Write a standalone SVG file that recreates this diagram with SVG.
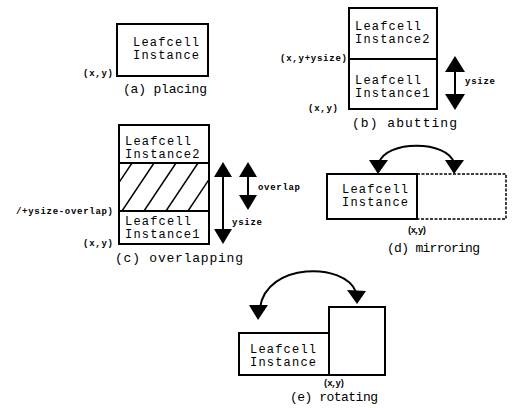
<svg xmlns="http://www.w3.org/2000/svg" width="513" height="408" viewBox="0 0 513 408">
<style>
.box{fill:none;stroke:#000;stroke-width:2}
.dbox{fill:none;stroke:#000;stroke-width:1.5;stroke-dasharray:3,1.5}
.t{font-family:'Liberation Mono','DejaVu Sans Mono','Courier New',monospace;font-size:12px;letter-spacing:1.2px;fill:#000}
.cap{font-family:'Liberation Mono','DejaVu Sans Mono','Courier New',monospace;font-size:13px;fill:#000}
.s{font-family:'Liberation Mono','DejaVu Sans Mono','Courier New',monospace;font-size:9px;font-weight:bold;fill:#000}
.ln{stroke:#000;stroke-width:2;fill:none}
.hd{fill:#000}
.hatch{stroke:#000;stroke-width:1.5}
</style>
<defs>
<clipPath id="hc"><rect x="119" y="163" width="90" height="48"/></clipPath>
</defs>
<rect width="513" height="408" fill="#fff"/>

<g id="a-placing">
<rect class="box" x="117" y="24" width="91" height="52"/>
<text class="t" x="133" y="46">Leafcell</text>
<text class="t" x="133" y="59">Instance</text>
<text class="s" x="113" y="76" text-anchor="end" textLength="30">(x,y)</text>
<text class="cap" x="123" y="93" textLength="84">(a) placing</text>
</g>

<g id="b-abutting">
<rect class="box" x="349" y="8" width="88" height="101"/>
<line class="ln" x1="349" y1="59" x2="437" y2="59"/>
<text class="t" x="355" y="30">Leafcell</text>
<text class="t" x="355" y="43">Instance2</text>
<text class="t" x="355" y="84">Leafcell</text>
<text class="t" x="355" y="97">Instance1</text>
<text class="s" x="280" y="61" textLength="67">(x,y+ysize)</text>
<text class="s" x="308" y="111" textLength="30">(x,y)</text>
<text class="s" x="465" y="84" textLength="30">ysize</text>
<text class="cap" x="352" y="127" textLength="105">(b) abutting</text>
</g>

<g id="c-overlapping">
<rect class="box" x="119" y="125" width="90" height="119"/>
<line class="ln" x1="119" y1="163" x2="209" y2="163"/>
<line class="ln" x1="119" y1="211" x2="209" y2="211"/>
<g clip-path="url(#hc)">
<line class="hatch" x1="100" y1="211" x2="132" y2="163"/>
<line class="hatch" x1="122" y1="211" x2="154" y2="163"/>
<line class="hatch" x1="144" y1="211" x2="176" y2="163"/>
<line class="hatch" x1="166" y1="211" x2="198" y2="163"/>
<line class="hatch" x1="188" y1="211" x2="220" y2="163"/>
<line class="hatch" x1="210" y1="211" x2="242" y2="163"/>
</g>
<text class="t" x="125" y="145">Leafcell</text>
<text class="t" x="125" y="158">Instance2</text>
<text class="t" x="125" y="225">Leafcell</text>
<text class="t" x="125" y="238">Instance1</text>
<text class="s" x="16" y="214" textLength="97">/+ysize-overlap)</text>
<text class="s" x="83" y="246" textLength="30">(x,y)</text>
<text class="s" x="232" y="225" textLength="30">ysize</text>
<text class="s" x="258" y="190" textLength="42">overlap</text>
<text class="cap" x="115" y="262" textLength="128">(c) overlapping</text>
</g>

<g id="d-mirroring">
<rect class="dbox" x="417" y="174" width="89" height="45"/>
<rect class="box" x="327" y="174" width="90" height="45"/>
<text class="t" x="342" y="193">Leafcell</text>
<text class="t" x="342" y="206">Instance</text>
<text class="s" x="407" y="233" textLength="20">(x,y)</text>
<text class="cap" x="387" y="252" textLength="93">(d) mirroring</text>
</g>

<g id="e-rotating">
<rect class="box" x="239" y="333" width="90" height="42"/>
<rect class="box" x="329" y="307" width="56" height="68"/>
<text class="t" x="250" y="353">Leafcell</text>
<text class="t" x="250" y="366">Instance</text>
<text class="s" x="323" y="386" textLength="22">(x,y)</text>
<text class="cap" x="290" y="401" textLength="88">(e) rotating</text>
</g>

<g id="connectors">
<line class="ln" x1="455" y1="68" x2="455" y2="98"/>
<polygon class="hd" points="455,56 445,72 465,72"/>
<polygon class="hd" points="455,110 445,94 465,94"/>
<line class="ln" x1="223" y1="172" x2="223" y2="234"/>
<polygon class="hd" points="223,162 214,177 232,177"/>
<polygon class="hd" points="223,244 214,229 232,229"/>
<line class="ln" x1="248" y1="172" x2="248" y2="200"/>
<polygon class="hd" points="248,162 239,177 257,177"/>
<polygon class="hd" points="248,210 239,195 257,195"/>
<path class="ln" d="M379 163 C 385 140, 448 140, 454 163"/>
<polygon class="hd" points="378,174 369,160 388,160"/>
<polygon class="hd" points="454,174 445,160 464,160"/>
<path class="ln" d="M260 308 C 266 262, 345 262, 356 292"/>
<polygon class="hd" points="258,320 249,305 268,305"/>
<polygon class="hd" points="357,304 347,290 366,291"/>
</g>
</svg>
